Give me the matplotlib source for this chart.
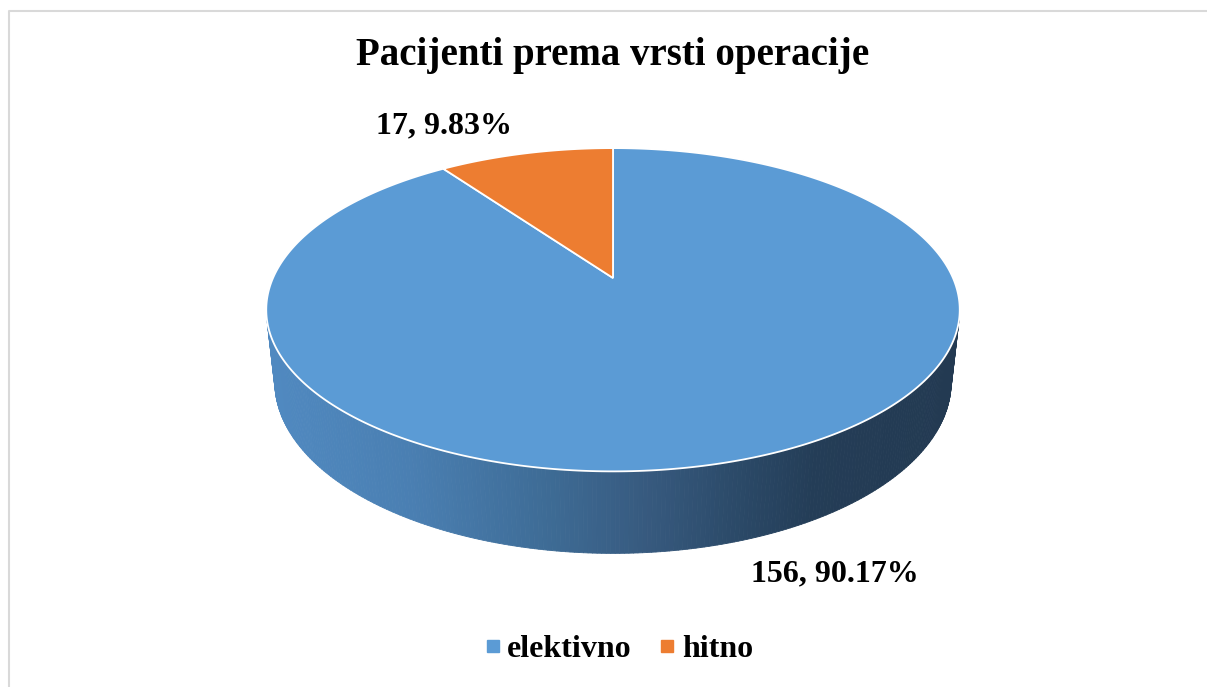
import numpy as np
import matplotlib
matplotlib.use("Agg")
import matplotlib.pyplot as plt
from matplotlib.collections import PolyCollection
from matplotlib.patches import Polygon
from matplotlib.lines import Line2D

# data
categories = ["elektivno", "hitno"]
counts = [156, 17]
colors = ["#5b9bd5", "#ed7d31"]
title = "Pacijenti prema vrsti operacije"

W, H = 1207, 687
plt.rcParams["font.family"] = ["Liberation Serif", "DejaVu Serif"]

# view set-up of the 3d pie (pixels)
cx, cy = 613, 278       # projected centre of top face
scale = 340             # pixels per unit radius
elev = np.radians(27.2)
dist = 4.53             # camera distance (perspective)
depth = 0.24            # thickness of the pie


def project(X, Y, Z):
    """world (X right, Y up, Z to viewer) -> pixel coords"""
    yc = Y * np.cos(elev) - Z * np.sin(elev)
    zc = Y * np.sin(elev) + Z * np.cos(elev)
    s = dist / (dist - zc)
    return cx + scale * X * s, cy - scale * yc * s


def rim(phi, Y=0.0):
    phi = np.radians(phi)
    return project(np.cos(phi), Y, -np.sin(phi))


fig = plt.figure(figsize=(W / 100, H / 100), dpi=100)
ax = fig.add_axes([0, 0, 1, 1])
ax.set_xlim(0, W)
ax.set_ylim(H, 0)
ax.axis("off")

# chart area border (only top and left are inside the picture)
ax.plot([8.5, 8.5, W + 5], [H + 5, 10.5, 10.5], color="#d9d9d9", lw=1.5)

total = sum(counts)
fracs = np.array(counts) / total
# Excel starts at 12 o'clock and goes clockwise -> decreasing phi
starts = 90 - 360 * np.concatenate([[0], np.cumsum(fracs)[:-1]])
ends = starts - 360 * fracs

# side wall: visible where outward normal faces the camera
lim = np.degrees(np.arcsin(1 / (dist * np.cos(elev))))
side_lo, side_hi = 180 + lim, 360 - lim

grad_pos = [0.0, 0.2, 0.4, 0.55, 0.7, 0.8, 1.0]
grad_col = ["#5089c0", "#4a7fb2", "#3e6c96", "#375a7f", "#2a4866", "#243d57", "#233a52"]
grad_rgb = np.array([matplotlib.colors.to_rgb(c) for c in grad_col])

polys, cols = [], []
x_left, _ = rim(180)
x_right, _ = rim(0)
for i, (a0, a1) in enumerate(zip(starts, ends)):
    lo, hi = min(a0, a1), max(a0, a1)
    # map range to 180..360 window
    for shift in (0, 360, -360):
        l2, h2 = max(lo + shift, side_lo), min(hi + shift, side_hi)
        if h2 <= l2:
            continue
        phis = np.linspace(l2, h2, 240)
        for p0, p1 in zip(phis[:-1], phis[1:]):
            xa, ya = rim(p0)
            xb, yb = rim(p1)
            xc_, yc_ = rim(p1, -depth)
            xd, yd = rim(p0, -depth)
            polys.append([(xa, ya), (xb, yb), (xc_, yc_), (xd, yd)])
            t = ((xa + xb) / 2 - x_left) / (x_right - x_left)
            cols.append([np.interp(t, grad_pos, grad_rgb[:, k]) for k in range(3)])

ax.add_collection(PolyCollection(polys, facecolors=cols, edgecolors=cols,
                                 linewidths=0.6, zorder=2))

# top faces
for a0, a1, c in zip(starts, ends, colors):
    phis = np.linspace(a0, a1, 400)
    xs, ys = rim(phis)
    pts = np.column_stack([np.r_[cx, xs], np.r_[cy, ys]])
    ax.add_patch(Polygon(pts, closed=True, facecolor=c, edgecolor="white",
                         lw=1.3, zorder=3))

# data labels
label_pos = [(835, 574), (444, 126)]
for (lx, ly), n, f in zip(label_pos, counts, fracs):
    ax.text(lx, ly, f"{n}, {f * 100:.2f}%", ha="center", va="center",
            fontsize=23, fontweight="bold", color="black", zorder=5)

ax.text(W / 2 + 9, 56, title, ha="center", va="center", fontsize=28,
        fontweight="bold", color="black")

handles = [Line2D([], [], marker="s", linestyle="none", markersize=8,
                  markerfacecolor=c, markeredgecolor=c) for c in colors]
fig.legend(handles, categories, loc="center", ncol=2, frameon=False,
           bbox_to_anchor=(618 / W, 1 - 649 / H),
           prop={"weight": "bold", "size": 23},
           handlelength=0.6, handletextpad=0.16, columnspacing=0.8)

fig.savefig("out.png", dpi=100)
